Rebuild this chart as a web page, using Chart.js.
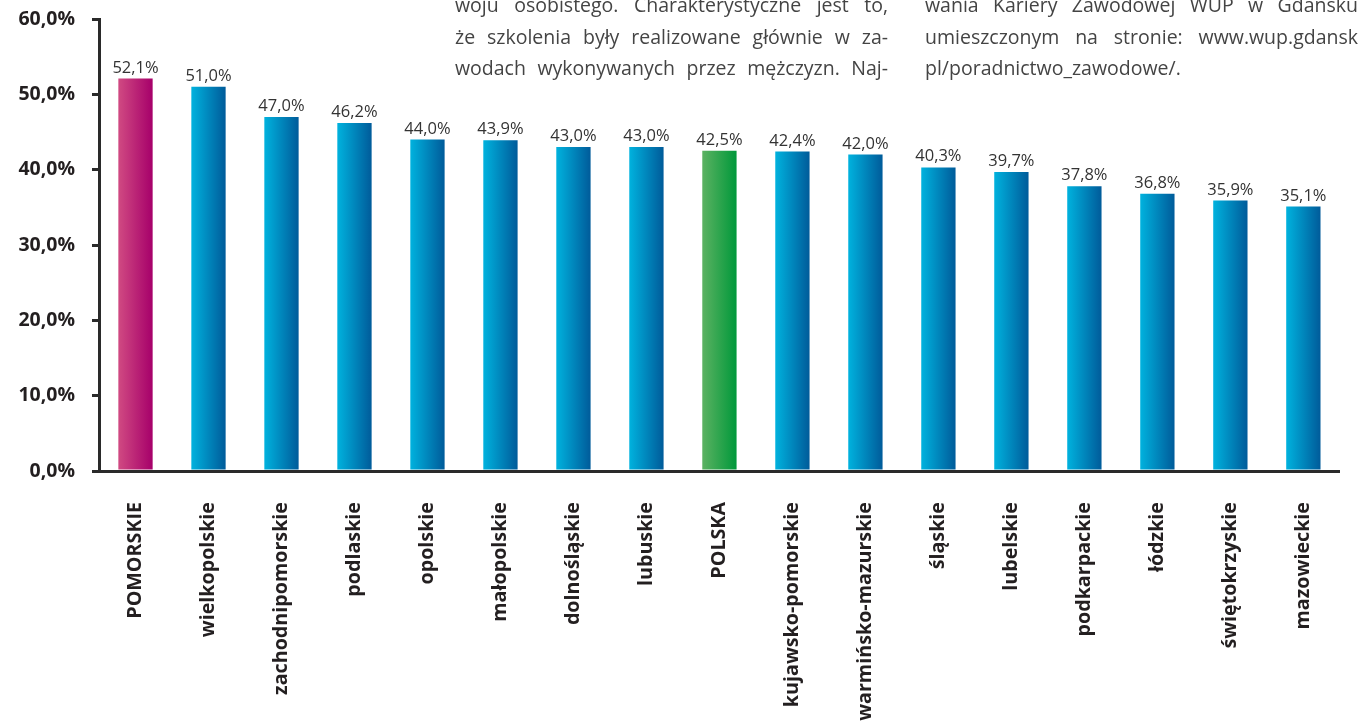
<!DOCTYPE html>
<html lang="pl">
<head>
<meta charset="utf-8">
<script src="https://cdn.jsdelivr.net/npm/chart.js@4.4.1/dist/chart.umd.min.js"></script>
<style>
  html, body { margin: 0; padding: 0; background: #ffffff; overflow: hidden; }
  #wrap { position: relative; width: 1358px; height: 722px; }
  #wrap canvas { position: absolute; left: 0; top: 0; }
  .col { position: absolute; width: 433px; font-family: "Open Sans", sans-serif; font-weight: 400;
         font-size: 19.5px; line-height: 31.5px; color: #444444; }
  .col div { white-space: nowrap; text-align: justify; text-align-last: justify; }
  .col div.last { text-align-last: left; }
</style>
</head>
<body>
<div id="wrap">
  <canvas id="chart" width="1358" height="722"></canvas>
  <div class="col" style="left:455px; top:-11px;">
    <div>woju osobistego. Charakterystyczne jest to,</div>
    <div>że szkolenia były realizowane głównie w za-</div>
    <div>wodach wykonywanych przez mężczyzn. Naj-</div>
  </div>
  <div class="col" style="left:925px; top:-11px;">
    <div>wania Kariery Zawodowej WUP w Gdańsku</div>
    <div>umieszczonym na stronie: www.wup.gdansk</div>
    <div class="last">pl/poradnictwo_zawodowe/.</div>
  </div>
</div>
<script>
// ---- data ----
const categories = ['POMORSKIE', 'wielkopolskie', 'zachodnipomorskie', 'podlaskie', 'opolskie',
  'małopolskie', 'dolnośląskie', 'lubuskie', 'POLSKA', 'kujawsko-pomorskie', 'warmińsko-mazurskie',
  'śląskie', 'lubelskie', 'podkarpackie', 'łódzkie', 'świętokrzyskie', 'mazowieckie'];
const values = [52.1, 51.0, 47.0, 46.2, 44.0, 43.9, 43.0, 43.0, 42.5, 42.4, 42.0, 40.3, 39.7, 37.8, 36.8, 35.9, 35.1];
const yTickValues = [0, 10, 20, 30, 40, 50, 60];
const yTickLabels = ['0,0%', '10,0%', '20,0%', '30,0%', '40,0%', '50,0%', '60,0%'];

// ---- styles ----
const gradientDefault = ['#00b2de', '#005b9a'];
const gradientSpecial = { 'POMORSKIE': ['#d04a82', '#a6006a'], 'POLSKA': ['#5cb262', '#00983a'] };
const BAR_FRACTION = 0.47;

function fmt(v) { return v.toFixed(1).replace('.', ',') + '%'; }

function barFill(ctx) {
  const chart = ctx.chart;
  const stops = gradientSpecial[categories[ctx.dataIndex]] || gradientDefault;
  const xs = chart.scales && chart.scales.x;
  if (ctx.type !== 'data' || !xs || !chart.chartArea) return stops[1];
  const cx = xs.getPixelForValue(ctx.dataIndex);
  const w = (xs.width / categories.length) * BAR_FRACTION;
  const g = chart.ctx.createLinearGradient(cx - w / 2, 0, cx + w / 2, 0);
  g.addColorStop(0, stops[0]);
  g.addColorStop(1, stops[1]);
  return g;
}

const dataLabels = {
  id: 'dataLabels',
  afterDatasetsDraw(chart) {
    const c = chart.ctx;
    const meta = chart.getDatasetMeta(0);
    c.save();
    c.font = '16.5px "Open Sans", sans-serif';
    c.fillStyle = '#333333';
    c.textAlign = 'center';
    c.textBaseline = 'alphabetic';
    meta.data.forEach((bar, i) => {
      c.fillText(fmt(values[i]), bar.x, bar.y - 6);
    });
    c.restore();
  }
};

new Chart(document.getElementById('chart'), {
  type: 'bar',
  data: {
    labels: categories,
    datasets: [{
      data: values,
      backgroundColor: barFill,
      borderWidth: 0,
      barPercentage: BAR_FRACTION,
      categoryPercentage: 1.0
    }]
  },
  options: {
    responsive: false,
    animation: false,
    layout: { padding: { top: 19, right: 0, left: 0, bottom: 0 } },
    plugins: { legend: { display: false }, tooltip: { enabled: false } },
    scales: {
      x: {
        offset: true,
        grid: { display: true, drawOnChartArea: false, drawTicks: false },
        border: { display: true, color: '#2a2a2a', width: 3 },
        ticks: {
          autoSkip: false, minRotation: 90, maxRotation: 90, padding: 31,
          color: '#231f20',
          font: { family: '"Open Sans", sans-serif', size: 19.7, weight: '700' }
        },
        afterFit(scale) { scale.height = 251; }
      },
      y: {
        min: 0, max: 60,
        afterBuildTicks(scale) { scale.ticks = yTickValues.map(v => ({ value: v })); },
        grid: { display: true, drawOnChartArea: false, drawTicks: true, tickLength: 7, color: '#2a2a2a', lineWidth: 3 },
        border: { display: true, color: '#2a2a2a', width: 3 },
        ticks: {
          padding: 17,
          color: '#231f20',
          font: { family: '"Open Sans", sans-serif', size: 19.5, weight: '700' },
          callback: (v) => yTickLabels[yTickValues.indexOf(v)]
        },
        afterFit(scale) { scale.width = 99; scale.paddingTop = 0; scale.paddingBottom = 0; }
      }
    }
  },
  plugins: [dataLabels]
});
</script>
</body>
</html>
